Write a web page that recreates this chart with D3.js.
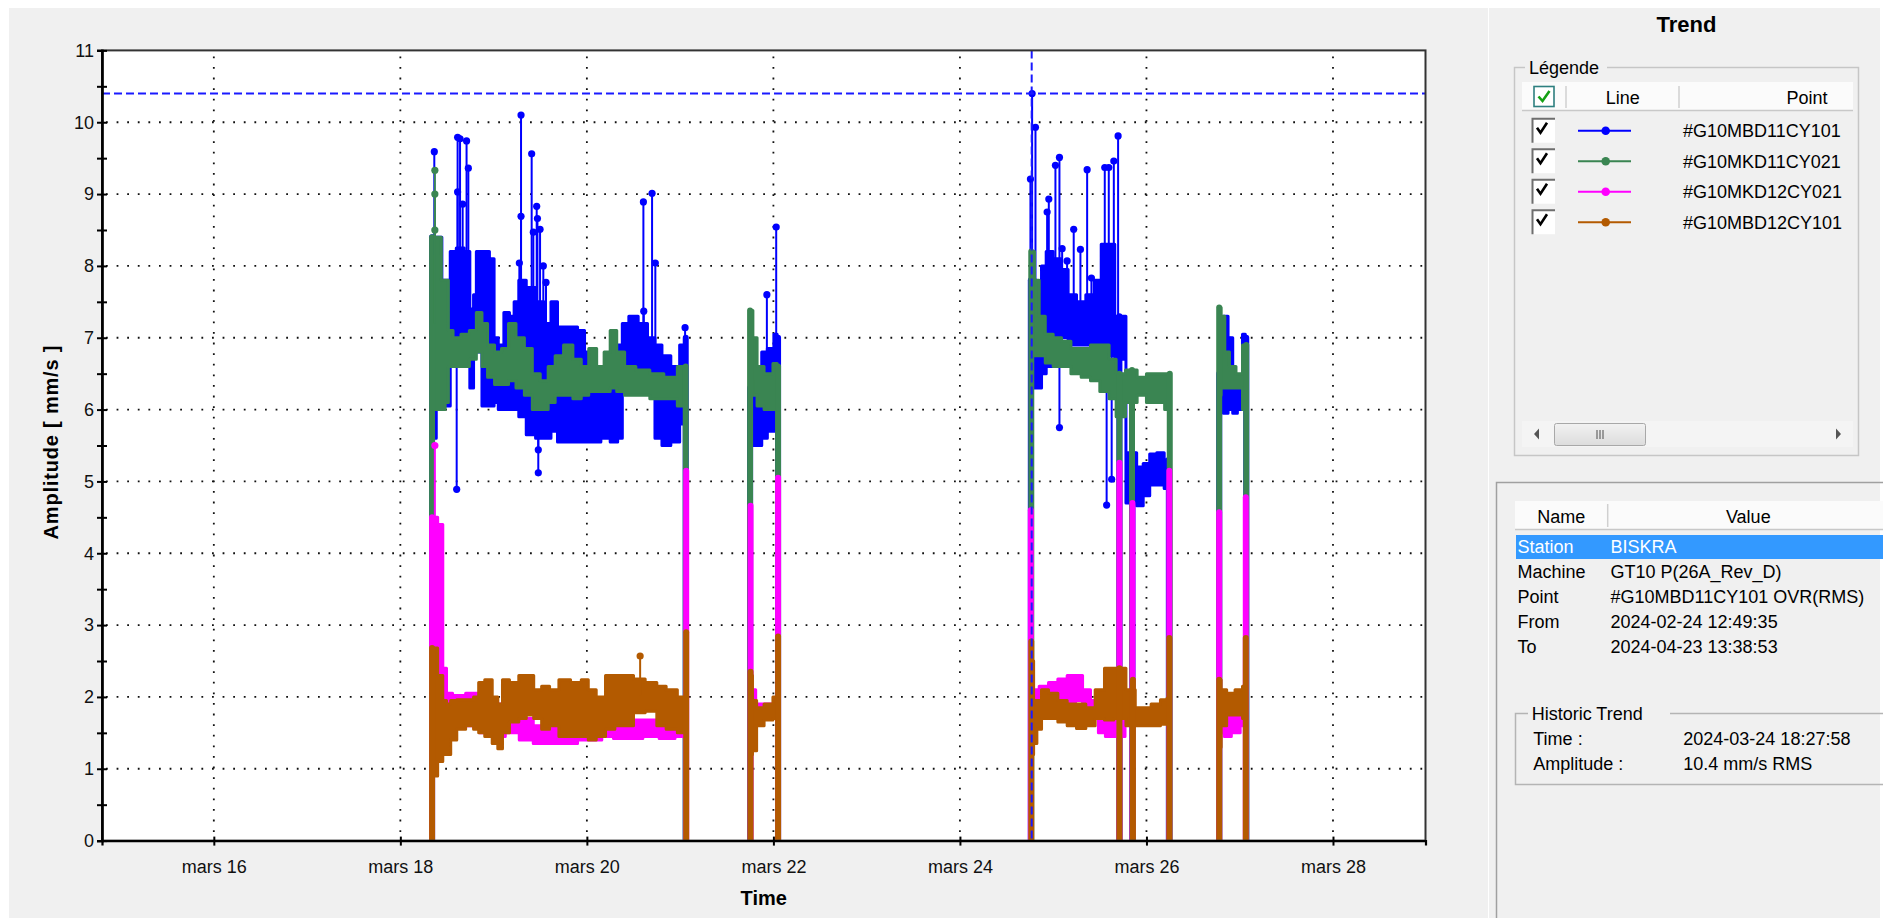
<!DOCTYPE html>
<html><head><meta charset="utf-8">
<script src="https://cdn.jsdelivr.net/npm/d3@7"></script>
<style>
body{margin:0;background:#fff;overflow:hidden}
svg{display:block;font-family:"Liberation Sans",Arial,sans-serif}
</style>
</head><body><svg id="c" width="1883" height="918"></svg>
<script>
// ---------------- DATA ----------------
const seriesNames = ["#G10MBD11CY101", "#G10MKD11CY021", "#G10MKD12CY021", "#G10MBD12CY101"];
const monthLabel = "mars";
const xTickDays = [16, 18, 20, 22, 24, 26, 28];
const xDomainDays = [14.801, 28.992];
const yDomain = [0, 11];
const yTicks = [0,1,2,3,4,5,6,7,8,9,10,11];
const yMinorTicks = [0.5,1.5,2.5,3.5,4.5,5.5,6.5,7.5,8.5,9.5,10.5];
const yGrid = [1,2,3,4,5,6,7,8,9,10];

// band data: [day of March, min, max] (dense trend rendered as a band)
const blueBand = [
 [18.35,5.6,8.4],[18.42,6.0,8.4],[18.47,6.05,7.8],[18.52,6.05,7.8],[18.55,6.6,8.2],[18.65,6.8,8.25],[18.72,6.6,8.2],[18.77,6.3,7.4],[18.80,6.9,7.6],[18.83,6.8,8.2],[18.92,6.05,8.2],[18.99,6.05,8.1],[19.02,6.1,7.0],[19.08,6.0,6.9],[19.14,6.0,7.35],[19.2,6.0,7.3],[19.24,6.0,7.5],[19.3,5.9,7.8],[19.4,5.65,7.7],[19.5,5.6,7.5],[19.58,5.6,7.2],[19.65,5.7,7.5],[19.72,5.55,7.15],[19.85,5.55,7.15],[19.95,5.55,7.1],[20.0,5.55,6.8],[20.1,5.55,6.5],[20.2,5.6,6.4],[20.3,5.55,6.5],[20.36,5.6,6.9],[20.4,6.3,7.2],[20.5,6.45,7.3],[20.6,6.5,7.2],[20.7,6.4,7.0],[20.76,5.6,6.9],[20.85,5.5,6.75],[20.95,5.55,6.6],[21.04,5.8,6.9],
 [21.77,5.5,6.3],[21.85,5.5,6.2],[21.9,5.6,6.8],[21.97,5.7,6.85],[22.04,5.7,7.05],
 [24.79,6.3,7.8],[24.85,6.3,7.6],[24.9,6.5,8.0],[24.95,6.6,8.2],[25.05,6.6,8.1],[25.12,7.0,7.95],[25.2,6.9,7.6],[25.3,6.9,7.5],[25.4,6.9,7.6],[25.48,6.9,7.8],[25.55,6.8,8.3],[25.62,6.75,8.3],[25.70,6.7,7.3],
 [25.86,4.7,5.4],[25.93,4.66,5.2],[26.0,4.8,5.25],[26.07,4.95,5.38],[26.15,4.95,5.4],[26.23,4.9,5.3],
 [26.8,6.0,6.5],[26.85,5.95,7.3],[26.9,6.0,7.0],[26.95,5.95,6.3],[27.0,6.0,6.4],[27.06,6.1,7.05]
];
const greenBand = [
 [18.35,6.0,8.4],[18.42,6.0,8.4],[18.46,6.0,7.8],[18.5,6.1,7.8],[18.53,6.6,7.1],[18.6,6.6,7.0],[18.7,6.6,7.05],[18.78,6.7,7.1],[18.85,6.8,7.35],[18.9,6.6,7.2],[18.97,6.45,6.9],[19.05,6.35,6.8],[19.12,6.35,6.85],[19.2,6.4,7.2],[19.28,6.3,7.0],[19.38,6.2,6.85],[19.45,6.0,6.5],[19.55,6.0,6.4],[19.62,6.1,6.6],[19.7,6.2,6.75],[19.8,6.2,6.9],[19.9,6.15,6.7],[19.98,6.2,6.6],[20.06,6.25,6.85],[20.15,6.25,6.6],[20.22,6.25,6.8],[20.28,6.3,7.1],[20.36,6.25,6.8],[20.45,6.2,6.6],[20.6,6.2,6.55],[20.75,6.15,6.5],[20.9,6.15,6.45],[21.04,6.05,6.6],
 [21.76,6.4,7.38],[21.8,6.2,7.0],[21.85,6.05,6.6],[21.95,6.0,6.5],[22.04,6.0,6.64],
 [24.78,6.8,8.2],[24.82,6.75,7.8],[24.88,6.75,7.3],[24.95,6.65,7.05],[25.05,6.6,7.0],[25.13,6.6,6.95],[25.25,6.5,6.85],[25.35,6.45,6.85],[25.45,6.4,6.9],[25.55,6.25,6.9],[25.65,6.15,6.7],[25.70,5.9,6.5],
 [25.85,6.1,6.55],[25.95,6.2,6.45],[26.05,6.1,6.5],[26.15,6.1,6.5],[26.24,6.0,6.5],
 [26.78,6.2,7.42],[26.82,6.3,7.3],[26.86,6.3,6.8],[26.92,6.3,6.6],[27.0,6.3,6.5],[27.06,6.0,6.9]
];
const magentaBand = [
 [18.36,1.5,4.5],[18.44,1.6,4.4],[18.47,1.6,2.4],[18.52,1.6,2.05],[18.6,1.6,2.02],[18.8,1.6,2.05],[18.9,1.5,1.98],[19.05,1.45,1.9],[19.2,1.5,1.9],[19.35,1.4,1.7],[19.5,1.35,1.6],[19.7,1.35,1.6],[19.85,1.35,1.75],[19.95,1.4,1.95],[20.0,1.4,2.0],[20.1,1.4,1.95],[20.22,1.45,1.9],[20.35,1.42,1.65],[20.5,1.42,1.68],[20.7,1.45,1.68],[20.85,1.42,1.6],[21.04,1.45,1.6],
 [21.77,1.7,2.1],[21.85,1.7,1.9],[22.04,1.7,1.9],
 [24.8,1.8,2.1],[24.9,1.9,2.15],[25.0,1.9,2.2],[25.1,1.85,2.25],[25.2,1.9,2.3],[25.28,1.95,2.3],[25.35,1.8,2.1],[25.45,1.75,1.95],[25.52,1.5,1.85],[25.6,1.45,1.8],[25.68,1.45,2.0],
 [25.86,1.75,1.9],[26.24,1.75,1.95],
 [26.8,1.5,2.0],[26.87,1.45,1.9],[26.95,1.5,1.9],[27.06,1.6,1.9]
];
const brownBand = [
 [18.36,0.9,2.68],[18.44,1.1,2.3],[18.47,1.2,1.95],[18.52,1.2,1.9],[18.56,1.4,1.95],[18.65,1.55,1.96],[18.75,1.6,1.96],[18.82,1.55,2.0],[18.86,1.5,2.2],[18.95,1.45,2.24],[19.02,1.35,2.0],[19.07,1.28,1.9],[19.12,1.5,2.24],[19.22,1.65,2.2],[19.32,1.7,2.3],[19.38,1.75,2.3],[19.48,1.7,2.1],[19.55,1.55,2.15],[19.65,1.6,2.1],[19.75,1.45,2.24],[19.9,1.45,2.2],[19.98,1.45,2.24],[20.05,1.4,2.1],[20.15,1.45,2.0],[20.25,1.55,2.3],[20.35,1.6,2.3],[20.45,1.6,2.3],[20.55,1.78,2.25],[20.7,1.8,2.2],[20.8,1.6,2.15],[20.9,1.55,2.1],[21.04,1.5,2.0],
 [21.76,1.2,2.3],[21.79,1.25,1.95],[21.85,1.6,1.85],[21.95,1.68,1.9],[22.04,1.7,2.0],
 [24.78,1.2,2.5],[24.8,1.35,1.95],[24.85,1.55,1.95],[24.9,1.7,2.1],[25.0,1.7,2.05],[25.1,1.65,1.95],[25.2,1.6,1.9],[25.3,1.56,1.9],[25.4,1.6,1.85],[25.5,1.7,2.1],[25.6,1.68,2.4],[25.7,1.7,2.4],
 [25.86,1.6,2.1],[25.9,1.6,1.85],[26.0,1.6,1.85],[26.1,1.6,1.9],[26.2,1.62,1.96],[26.24,1.62,1.98],
 [26.78,1.3,2.24],[26.82,1.6,2.1],[26.9,1.75,2.05],[27.0,1.75,2.1],[27.06,1.7,2.15]
];

// isolated readings: [day, value]
const blueSpikes = [[18.364,9.59],[18.604,4.89],[18.614,9.79],[18.64,9.77],[18.668,8.86],[18.614,9.03],[18.71,9.74],[18.729,9.36],[19.276,8.04],[19.294,10.1],[19.294,8.69],[19.408,9.56],[19.426,8.47],[19.462,8.83],[19.47,8.66],[19.479,5.44],[19.479,5.12],[19.498,8.51],[19.533,8.0],[19.562,7.77],[20.606,8.89],[20.61,7.37],[20.699,9.01],[20.734,8.04],[21.053,7.14],[21.93,7.6],[22.03,8.54],[24.756,9.21],[24.774,10.4],[24.81,9.93],[24.935,8.75],[24.953,8.93],[25.024,9.4],[25.067,9.51],[25.067,5.75],[25.096,8.24],[25.149,8.07],[25.22,8.51],[25.292,8.23],[25.364,9.34],[25.41,7.83],[25.553,9.37],[25.573,4.67],[25.596,9.37],[25.627,5.03],[25.65,9.46],[25.696,9.81]];
const greenSpikes = [[18.37,9.33],[18.37,9.0],[18.37,8.5]];
const magentaSpikes = [[18.37,5.5]];
const brownSpikes = [[20.571,2.57]];

// start/stop transitions to zero: [day, peak]
const blueEdges = [[18.34,8.4],[21.06,7.0],[21.75,6.3],[22.05,7.0],[24.76,7.8],[25.71,7.3],[25.85,5.4],[26.24,5.3],[26.78,6.5],[27.07,7.0]];
const greenEdges = [[18.34,8.4],[21.06,6.6],[21.75,7.38],[22.05,6.6],[24.765,8.2],[25.71,6.5],[25.845,6.55],[26.25,6.5],[26.78,7.42],[27.07,6.9]];
const magentaEdges = [[18.34,4.5],[21.065,5.15],[21.755,4.66],[22.05,5.05],[24.76,4.6],[25.71,5.26],[25.85,4.7],[26.245,5.15],[26.78,4.57],[27.065,4.78]];
const brownEdges = [[18.34,2.68],[21.065,2.9],[21.755,2.35],[22.05,2.84],[24.765,2.77],[25.71,2.4],[25.855,2.24],[26.245,2.82],[26.78,2.24],[27.065,2.82]];

const cursorDay = 24 + (18 + 27/60 + 58/3600) / 24;
const cursorAmp = 10.4;
const cursorTimeText = "2024-03-24 18:27:58";
const cursorAmpText = "10.4 mm/s RMS";

const propNames = ["Station", "Machine", "Point", "From", "To"];
const propValues = ["BISKRA", "GT10 P(26A_Rev_D)", "#G10MBD11CY101 OVR(RMS)", "2024-02-24 12:49:35", "2024-04-23 13:38:53"];

// ---------------- STYLE ----------------
const colors = ["#0000ff", "#3a8552", "#ff00ff", "#b35a00"];
const FONT = 18;

const svg = d3.select("#c");
svg.append("rect").attr("x",9).attr("y",8).attr("width",1479).attr("height",910).attr("fill","#f0f0f0");
svg.append("rect").attr("x",1489).attr("y",8).attr("width",391).attr("height",910).attr("fill","#f0f0f0");

const M = {l:102, r:1425.5, t:50.4, b:840.6};
const toDate = d => new Date(Date.UTC(2024,2,1) + (d-1)*864e5);
const x = d3.scaleUtc().domain(xDomainDays.map(toDate)).range([M.l, M.r]);
const y = d3.scaleLinear().domain(yDomain).range([M.b, M.t]);

svg.append("rect").attr("x",M.l).attr("y",M.t).attr("width",M.r-M.l).attr("height",M.b-M.t).attr("fill","#fff");

// grid
const grid = svg.append("g").attr("stroke","#111").attr("stroke-width",1.8).attr("stroke-dasharray","1.8 8.8");
grid.selectAll("line.h").data(yGrid).join("line").attr("class","h")
  .attr("x1",M.l+4).attr("x2",M.r).attr("y1",d=>y(d)).attr("y2",d=>y(d));
grid.selectAll("line.v").data(xTickDays).join("line").attr("class","v")
  .attr("x1",d=>x(toDate(d))).attr("x2",d=>x(toDate(d))).attr("y1",M.t+6).attr("y2",M.b);

// series
svg.append("clipPath").attr("id","plotclip").append("rect")
  .attr("x",M.l).attr("y",M.t).attr("width",M.r-M.l).attr("height",M.b-M.t);
const plot = svg.append("g").attr("clip-path","url(#plotclip)");

function splitRuns(band){
  const runs=[]; let cur=[];
  band.forEach((p,i)=>{ if(i>0 && p[0]-band[i-1][0]>0.3){runs.push(cur);cur=[];} cur.push(p); });
  if(cur.length) runs.push(cur);
  return runs;
}
const area = d3.area().x(d=>x(toDate(d[0]))).y0(d=>y(d[1])).y1(d=>y(d[2])).curve(d3.curveStep);
const bis = d3.bisector(d=>d[0]).center;

const allSeries = [
  {band:blueBand, spikes:blueSpikes, edges:blueEdges},
  {band:greenBand, spikes:greenSpikes, edges:greenEdges},
  {band:magentaBand, spikes:magentaSpikes, edges:magentaEdges},
  {band:brownBand, spikes:brownSpikes, edges:brownEdges}
];
allSeries.forEach((s,i)=>{
  const c = colors[i];
  const g = plot.append("g");
  g.selectAll("path.band").data(splitRuns(s.band)).join("path").attr("class","band")
    .attr("d",area).attr("fill",c).attr("stroke",c).attr("stroke-width",3).attr("stroke-linejoin","round");
  g.selectAll("line.edge").data(s.edges).join("line").attr("class","edge")
    .attr("x1",d=>x(toDate(d[0]))).attr("x2",d=>x(toDate(d[0])))
    .attr("y1",y(0)).attr("y2",d=>y(d[1]))
    .attr("stroke",c).attr("stroke-width",6).attr("stroke-linecap","round");
  g.selectAll("line.spk").data(s.spikes).join("line").attr("class","spk")
    .attr("x1",d=>x(toDate(d[0]))).attr("x2",d=>x(toDate(d[0])))
    .attr("y1",d=>{const b=s.band[bis(s.band,d[0])]; return y((b[1]+b[2])/2);})
    .attr("y2",d=>y(d[1])).attr("stroke",c).attr("stroke-width",2);
  g.selectAll("circle.spk").data(s.spikes).join("circle").attr("class","spk")
    .attr("cx",d=>x(toDate(d[0]))).attr("cy",d=>y(d[1])).attr("r",3.6).attr("fill",c);
});

// cursor
const cur = svg.append("g").attr("stroke","#1a1aff").attr("stroke-width",2).attr("stroke-dasharray","8 4");
cur.append("line").attr("x1",M.l).attr("x2",M.r).attr("y1",y(cursorAmp)).attr("y2",y(cursorAmp));
cur.append("line").attr("x1",x(toDate(cursorDay))).attr("x2",x(toDate(cursorDay))).attr("y1",M.t).attr("y2",M.b);

// frame
svg.append("rect").attr("x",M.l).attr("y",M.t).attr("width",M.r-M.l).attr("height",M.b-M.t)
  .attr("fill","none").attr("stroke","#333").attr("stroke-width",2);

// axes
const yAx = svg.append("g").attr("transform",`translate(${M.l},0)`)
  .call(d3.axisLeft(y).tickValues(yTicks).tickSize(5).tickPadding(3).tickFormat(d3.format("d")));
const yAxMinor = svg.append("g").attr("transform",`translate(${M.l},0)`)
  .call(d3.axisLeft(y).tickValues(yMinorTicks).tickSize(5).tickFormat(""));
[yAx,yAxMinor].forEach(a=>{
  a.select(".domain").attr("stroke","#000").attr("stroke-width",2.2);
  a.selectAll(".tick line").attr("x1",5).attr("x2",-5).attr("stroke","#000").attr("stroke-width",2);
});
yAx.selectAll("text").attr("font-size",FONT).attr("fill","#111").attr("font-family","Liberation Sans, Arial");

const xAx = svg.append("g").attr("transform",`translate(0,${M.b})`)
  .call(d3.axisBottom(x).tickValues(xTickDays.map(toDate)).tickSize(5).tickPadding(15)
    .tickFormat(d=>monthLabel+" "+d.getUTCDate()));
xAx.select(".domain").attr("stroke","#000").attr("stroke-width",2.2);
xAx.selectAll(".tick line").attr("y1",-4).attr("y2",5).attr("stroke","#000").attr("stroke-width",2);
xAx.selectAll("text").attr("font-size",FONT).attr("fill","#111").attr("font-family","Liberation Sans, Arial");

// axis titles
svg.append("text").attr("x",(M.l+M.r)/2).attr("y",905).attr("text-anchor","middle")
  .attr("font-size",20).attr("font-weight","bold").text("Time");
svg.append("text").attr("transform",`translate(58,${(M.t+M.b)/2 - 3}) rotate(-90)`).attr("text-anchor","middle")
  .attr("font-size",20).attr("font-weight","bold")
  .attr("textLength",194).attr("lengthAdjust","spacing").text("Amplitude [ mm/s ]");

// ---------------- RIGHT PANEL ----------------
svg.append("text").attr("x",1686.5).attr("y",32).attr("text-anchor","middle")
  .attr("font-size",22).attr("font-weight","bold").text("Trend");

// legend group box
svg.append("rect").attr("x",1514.5).attr("y",67.5).attr("width",344).attr("height",388)
  .attr("fill","none").attr("stroke","#c6c6c6").attr("stroke-width",1.5);
svg.append("rect").attr("x",1525).attr("y",58).attr("width",82).attr("height",20).attr("fill","#f0f0f0");
svg.append("text").attr("x",1529).attr("y",74).attr("font-size",FONT).text("Légende");

// list header
svg.append("rect").attr("x",1522).attr("y",82).attr("width",331).attr("height",28).attr("fill","#fbfbfb");
svg.append("line").attr("x1",1522).attr("x2",1853).attr("y1",110.5).attr("y2",110.5).attr("stroke","#c8c8c8").attr("stroke-width",1.5);
[1566,1679].forEach(sx=>svg.append("line").attr("x1",sx).attr("x2",sx).attr("y1",86).attr("y2",108).attr("stroke","#d0d0d0").attr("stroke-width",1.5));
svg.append("rect").attr("x",1534).attr("y",86.5).attr("width",20).attr("height",20).attr("fill","#fff").attr("stroke","#2d7f7f").attr("stroke-width",1.6);
svg.append("path").attr("d","M1538.5,96.5 L1542.5,101 L1549.5,91").attr("fill","none").attr("stroke","#14a014").attr("stroke-width",2.6);
svg.append("text").attr("x",1622.7).attr("y",103.5).attr("text-anchor","middle").attr("font-size",FONT).text("Line");
svg.append("text").attr("x",1807).attr("y",103.5).attr("text-anchor","middle").attr("font-size",FONT).text("Point");

// legend rows
const rowY = i => 130.7 + i*30.5;
seriesNames.forEach((n,i)=>{
  const cy = rowY(i);
  svg.append("rect").attr("x",1532).attr("y",cy-12).attr("width",23).attr("height",24).attr("fill","#fff");
  svg.append("path").attr("d",`M1532.5,${cy+12} V${cy-12} H1555`).attr("fill","none").attr("stroke","#6e6e6e").attr("stroke-width",2);
  svg.append("path").attr("d",`M1537,${cy-3} L1540.5,${cy+2} L1547,${cy-8}`).attr("fill","none").attr("stroke","#000").attr("stroke-width",2.6);
  svg.append("line").attr("x1",1578).attr("x2",1631).attr("y1",cy).attr("y2",cy).attr("stroke",colors[i]).attr("stroke-width",2);
  svg.append("circle").attr("cx",1605.7).attr("cy",cy).attr("r",4.3).attr("fill",colors[i]);
  svg.append("text").attr("x",1683).attr("y",cy+6.5).attr("font-size",FONT).text(n);
});

// scrollbar
svg.append("rect").attr("x",1522).attr("y",421).attr("width",331).attr("height",26).attr("fill","#f4f4f4");
svg.append("path").attr("d","M1539,428.5 L1534,434 L1539,439.5 Z").attr("fill","#555");
svg.append("path").attr("d","M1836,428.5 L1841,434 L1836,439.5 Z").attr("fill","#555");
const grad = svg.append("defs").append("linearGradient").attr("id","thumb").attr("x1",0).attr("x2",0).attr("y1",0).attr("y2",1);
grad.append("stop").attr("offset","0").attr("stop-color","#f2f2f2");
grad.append("stop").attr("offset","1").attr("stop-color","#dcdcdc");
svg.append("rect").attr("x",1554.5).attr("y",423.5).attr("width",91).attr("height",22).attr("rx",2)
  .attr("fill","url(#thumb)").attr("stroke","#a8a8a8");
[1597,1600,1603].forEach(gx=>svg.append("line").attr("x1",gx).attr("x2",gx).attr("y1",430).attr("y2",439).attr("stroke","#666").attr("stroke-width",1.2));

// property panel
svg.append("path").attr("d","M1496.5,918 V482.5 H1883").attr("fill","none").attr("stroke","#a0a0a0").attr("stroke-width",1.5);
svg.append("rect").attr("x",1515).attr("y",501).attr("width",368).attr("height",28).attr("fill","#fbfbfb");
svg.append("line").attr("x1",1515).attr("x2",1883).attr("y1",529.5).attr("y2",529.5).attr("stroke","#c8c8c8").attr("stroke-width",1.5);
svg.append("line").attr("x1",1607.7).attr("x2",1607.7).attr("y1",504).attr("y2",527).attr("stroke","#d0d0d0").attr("stroke-width",1.5);
svg.append("text").attr("x",1561.3).attr("y",522.5).attr("text-anchor","middle").attr("font-size",FONT).text("Name");
svg.append("text").attr("x",1748.3).attr("y",522.5).attr("text-anchor","middle").attr("font-size",FONT).text("Value");
svg.append("rect").attr("x",1516).attr("y",535).attr("width",367).attr("height",24).attr("fill","#3399ff");
propNames.forEach((n,i)=>{
  const ty = 553 + i*25;
  const fill = i===0 ? "#fff" : "#000";
  svg.append("text").attr("x",1517.5).attr("y",ty).attr("font-size",FONT).attr("fill",fill).text(n);
  svg.append("text").attr("x",1610.5).attr("y",ty).attr("font-size",FONT).attr("fill",fill).text(propValues[i]);
});

// historic trend group
svg.append("path").attr("d","M1883,713.5 H1515.5 V784.5 H1883").attr("fill","none").attr("stroke","#b4b4b4").attr("stroke-width",1.5);
svg.append("rect").attr("x",1528).attr("y",703).attr("width",142).attr("height",20).attr("fill","#f0f0f0");
svg.append("text").attr("x",1531.7).attr("y",719.5).attr("font-size",FONT).text("Historic Trend");
svg.append("text").attr("x",1533.3).attr("y",744.5).attr("font-size",FONT).text("Time :");
svg.append("text").attr("x",1533.3).attr("y",769.5).attr("font-size",FONT).text("Amplitude :");
svg.append("text").attr("x",1683.3).attr("y",744.5).attr("font-size",FONT).text(cursorTimeText);
svg.append("text").attr("x",1683.3).attr("y",769.5).attr("font-size",FONT).text(cursorAmpText);
</script>
</body></html>
